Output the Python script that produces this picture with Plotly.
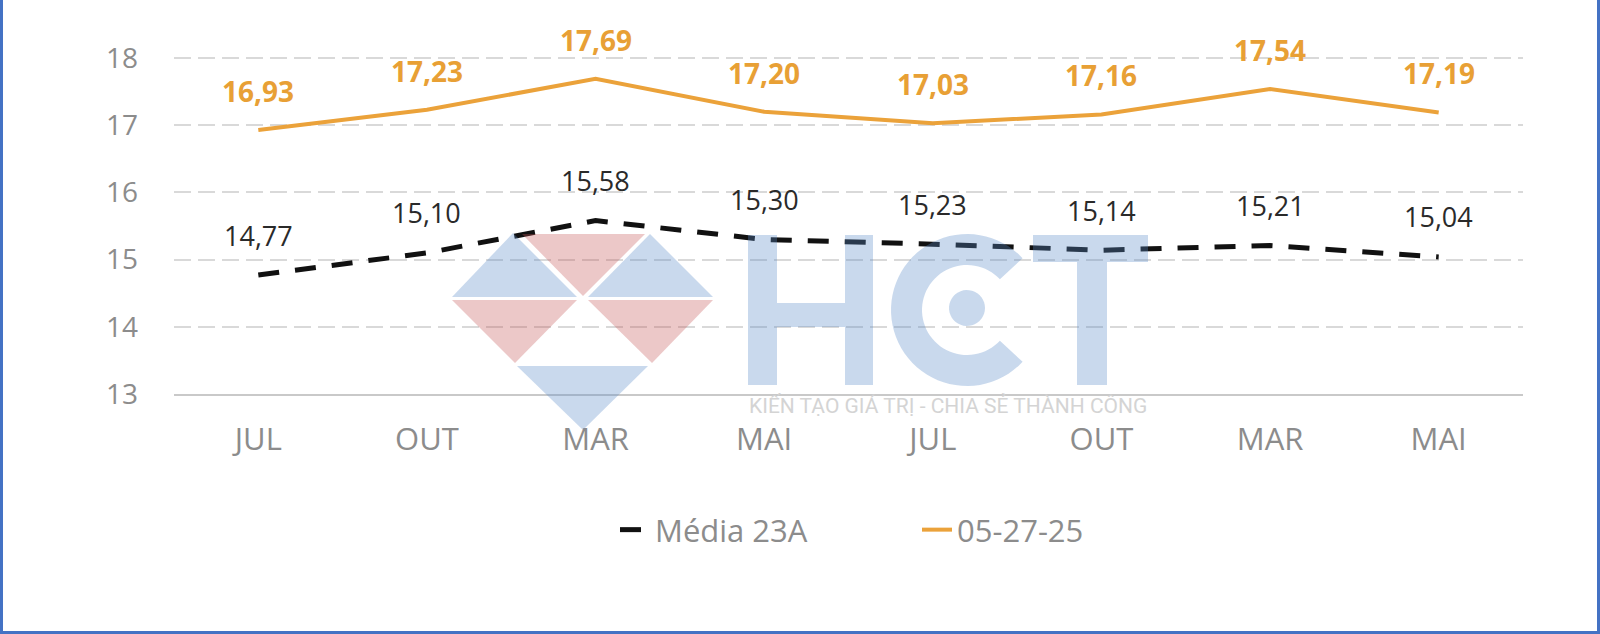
import numpy as np
import plotly.graph_objects as go

# ---- data ----
month_labels = ["JUL", "OUT", "MAR", "MAI", "JUL", "OUT", "MAR", "MAI"]
media_23a = [14.77, 15.10, 15.58, 15.30, 15.23, 15.14, 15.21, 15.04]
serie_052725 = [16.93, 17.23, 17.69, 17.20, 17.03, 17.16, 17.54, 17.19]
y_ticks = [13, 14, 15, 16, 17, 18]
series_names = ["Média 23A", "05-27-25"]

x_idx = list(range(len(month_labels)))

ORANGE = "#EBA23A"
ORANGE_TXT = "#E8A035"
GRAY_TXT = "#8C8C8C"
FONT = "Open Sans"

fig = go.Figure()
fig.add_trace(go.Scatter(
    x=x_idx, y=media_23a, mode="lines", name=series_names[0],
    line=dict(color="#111111", width=5, dash="21px,16px"),
    hoverinfo="skip",
))
fig.add_trace(go.Scatter(
    x=x_idx, y=serie_052725, mode="lines", name=series_names[1],
    line=dict(color=ORANGE, width=4),
    hoverinfo="skip",
))

def fmt(v):
    return f"{v:.2f}".replace(".", ",")

annotations = []
for xi, v in zip(x_idx, serie_052725):
    annotations.append(dict(x=xi, y=v, xref="x", yref="y", text=fmt(v),
                            showarrow=False, yshift=39,
                            font=dict(family=FONT, size=28, color=ORANGE_TXT, weight="bold")))
for xi, v in zip(x_idx, media_23a):
    annotations.append(dict(x=xi, y=v, xref="x", yref="y", text=fmt(v),
                            showarrow=False, yshift=40,
                            font=dict(family=FONT, size=27, color="#2A2A2A")))

# ---- layout geometry (pixels) ----
W, H = 1600, 634
Y_MIN, Y_MAX = 13, 18.03
L, R, B = 174, 1523, 394
PX_PER_UNIT = 67.2
T = B - (Y_MAX - Y_MIN) * PX_PER_UNIT

def P(px, py):
    return ((px - L) / (R - L), (B - py) / (B - T))

def path_from(points):
    pts = [P(x, y) for x, y in points]
    return "M " + " L ".join(f"{a:.5f},{b:.5f}" for a, b in pts) + " Z"

BLUE_WM = "rgba(90,140,200,0.33)"
PINK_WM = "rgba(198,88,88,0.33)"

shapes = []
# diamond logo (watermark)
tris = [
    ([(452, 297), (513, 233), (577, 297)], BLUE_WM),
    ([(522, 234), (645, 234), (583, 296)], PINK_WM),
    ([(588, 297), (650, 234), (713, 297)], BLUE_WM),
    ([(452, 300), (577, 300), (515, 363)], PINK_WM),
    ([(588, 300), (713, 300), (652, 363)], PINK_WM),
    ([(517, 366), (648, 366), (583, 430)], BLUE_WM),
]
for pts, col in tris:
    shapes.append(dict(type="path", xref="paper", yref="paper", path=path_from(pts),
                       fillcolor=col, line=dict(width=0), layer="above"))

def rect(x0, y0, x1, y1):
    return [(x0, y0), (x1, y0), (x1, y1), (x0, y1)]

# H
for r in [rect(748, 235, 777, 385), rect(845, 235, 873, 385), rect(777, 303, 845, 327)]:
    shapes.append(dict(type="path", xref="paper", yref="paper", path=path_from(r),
                       fillcolor=BLUE_WM, line=dict(width=0), layer="above"))
# C ring
cx, cy, ro, ri = 967, 310, 76, 45
angs = np.radians(np.linspace(43, 317, 60))
outer = [(cx + ro * np.cos(a), cy - ro * np.sin(a)) for a in angs]
inner = [(cx + ri * np.cos(a), cy - ri * np.sin(a)) for a in angs[::-1]]
shapes.append(dict(type="path", xref="paper", yref="paper", path=path_from(outer + inner),
                   fillcolor=BLUE_WM, line=dict(width=0), layer="above"))
# C dot
angs2 = np.radians(np.linspace(0, 360, 40))
dot = [(967 + 18 * np.cos(a), 308 - 18 * np.sin(a)) for a in angs2]
shapes.append(dict(type="path", xref="paper", yref="paper", path=path_from(dot),
                   fillcolor=BLUE_WM, line=dict(width=0), layer="above"))
# T
for r in [rect(1033, 235, 1148, 262), rect(1077, 262, 1107, 385)]:
    shapes.append(dict(type="path", xref="paper", yref="paper", path=path_from(r),
                       fillcolor=BLUE_WM, line=dict(width=0), layer="above"))

# frame border
bx0, by0 = P(1.5, -5)
bx1, by1 = P(1598.5, 632.5)
shapes.append(dict(type="rect", xref="paper", yref="paper", x0=bx0, y0=by0, x1=bx1, y1=by1,
                   line=dict(color="#4472C4", width=3), fillcolor="rgba(0,0,0,0)", layer="above"))

sx, sy = P(948, 406)
annotations.append(dict(x=sx, y=sy, xref="paper", yref="paper", xanchor="center", yanchor="middle",
                        text="KIẾN TẠO GIÁ TRỊ - CHIA SẺ THÀNH CÔNG", showarrow=False,
                        font=dict(family="Roboto", size=21, color="#D4D4D4")))

lx, ly = P(615, 530)

fig.update_layout(
    width=W, height=H,
    margin=dict(l=L, r=W - R, t=T, b=H - B, pad=0),
    paper_bgcolor="white", plot_bgcolor="white",
    showlegend=True,
    legend=dict(orientation="h", x=lx, y=ly, xanchor="left", yanchor="middle",
                font=dict(family=FONT, size=31, color=GRAY_TXT),
                entrywidth=257, entrywidthmode="pixels",
                tracegroupgap=0, bgcolor="rgba(0,0,0,0)"),
    xaxis=dict(range=[-0.5, len(month_labels) - 0.5], tickmode="array", tickvals=x_idx,
               ticktext=month_labels, showgrid=False, zeroline=False,
               showline=True, linecolor="#C9C9C9", linewidth=2, ticks="",
               ticklabelstandoff=17,
               tickfont=dict(family=FONT, size=31, color=GRAY_TXT)),
    yaxis=dict(range=[Y_MIN, Y_MAX], tickmode="array", tickvals=y_ticks,
               ticktext=[str(t) for t in y_ticks], showgrid=True,
               gridcolor="#D9D9D9", gridwidth=2, griddash="17px,7px",
               zeroline=False, showline=False, ticks="",
               ticklabelstandoff=35,
               tickfont=dict(family=FONT, size=28, color=GRAY_TXT)),
    annotations=annotations,
    shapes=shapes,
)

fig.write_html("out.html", config={"displayModeBar": False},
               post_script="document.body.style.margin='0';")
